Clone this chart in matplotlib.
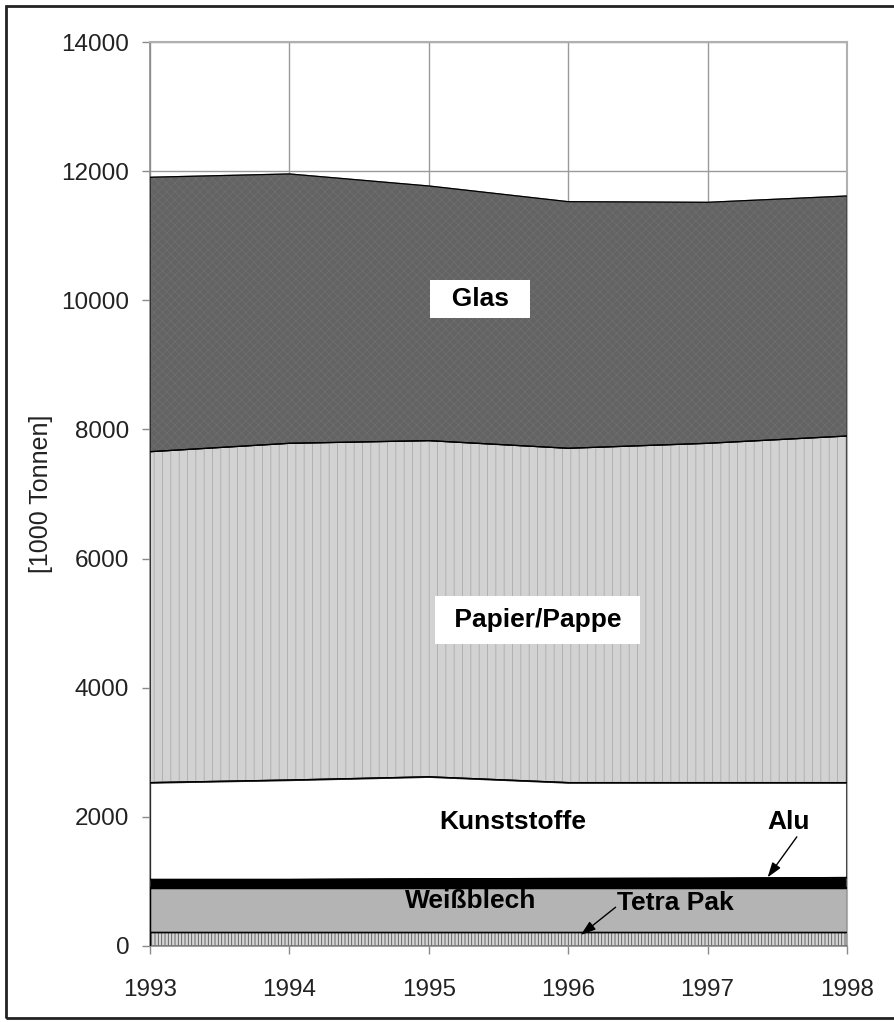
import matplotlib
matplotlib.use("Agg")
import matplotlib.pyplot as plt
from matplotlib.patches import Rectangle

plt.rcParams['font.family'] = ['Liberation Sans', 'DejaVu Sans']
plt.rcParams['hatch.linewidth'] = 0.6

years = [1993, 1994, 1995, 1996, 1997, 1998]
# values in 1000 t, bottom to top
tetra_pak = [220, 220, 220, 220, 220, 220]
weissblech = [685, 685, 685, 685, 685, 685]
alu = [125, 125, 135, 140, 145, 155]
kunststoffe = [1500, 1540, 1580, 1485, 1480, 1470]
papier = [5125, 5215, 5206, 5178, 5255, 5368]
glas = [4250, 4171, 3944, 3819, 3732, 3717]

fig = plt.figure(figsize=(8.95, 10.22), dpi=100)
ax = fig.add_axes([0.1676, 0.0744, 0.7788, 0.8845])

polys = ax.stackplot(years, tetra_pak, weissblech, alu, kunststoffe, papier, glas,
                     colors=['#d4d4d4', '#b4b4b4', '#000000', '#ffffff', '#d2d2d2', '#636363'],
                     edgecolor='black', linewidth=0.9, zorder=2)
# textures
polys[0].set_hatch('|||||')
polys[0].set_edgecolor('#555555')
polys[4].set_hatch('||')
polys[4].set_edgecolor('#ababab')
polys[5].set_hatch('xxxx')
polys[5].set_edgecolor('#6e6e6e')
# redraw outlines in black on top of the hatched layers
ax.stackplot(years, tetra_pak, weissblech, alu, kunststoffe, papier, glas,
             colors=['none'] * 6, edgecolor='black', linewidth=0.9, zorder=3)

ax.set_xlim(1993, 1998)
ax.set_ylim(0, 14000)
ax.set_xticks(years)
ax.set_yticks(range(0, 14001, 2000))
ax.grid(True, color='#9a9a9a', linewidth=1.0, zorder=0)
ax.set_axisbelow(True)
for s in ['left', 'bottom']:
    ax.spines[s].set_color('#8a8a8a')
    ax.spines[s].set_linewidth(1.2)
for s in ['top', 'right']:
    ax.spines[s].set_color('#b0b0b0')
    ax.spines[s].set_linewidth(1.5)
ax.tick_params(axis='both', direction='out', length=6, width=1.0, color='#8a8a8a',
               labelsize=17.5, labelcolor='#222222')
ax.tick_params(axis='y', pad=9)
ax.tick_params(axis='x', pad=18)
ax.set_ylabel('[1000 Tonnen]', fontsize=18, color='#222222', labelpad=6)

bold = dict(fontsize=19, fontweight='bold', ha='center', va='center', zorder=5)
ax.text(1995.37, 10020, '  Glas  ', bbox=dict(boxstyle='square,pad=0.25', fc='white', ec='none'), **bold)
ax.text(1995.78, 5050, ' Papier/Pappe ', bbox=dict(boxstyle='square,pad=0.45', fc='white', ec='none'), **bold)
ax.text(1995.60, 1920, 'Kunststoffe', **bold)
ax.text(1995.30, 700, 'Weißblech', **bold)
ax.text(1997.58, 1920, 'Alu', **bold)
ax.text(1996.77, 670, 'Tetra Pak', **bold)

arrow = dict(arrowstyle='-|>,head_length=0.9,head_width=0.3', color='black', lw=1.0,
             shrinkA=0, shrinkB=0)
ax.annotate('', xy=(1997.43, 1062), xytext=(1997.64, 1690), arrowprops=arrow, zorder=5)
ax.annotate('', xy=(1996.09, 170), xytext=(1996.34, 600), arrowprops=arrow, zorder=5)

# outer frame of the figure
fig.patches.append(Rectangle((0.0067, 0.004), 1.2, 0.99, transform=fig.transFigure,
                             fill=False, ec='#222222', lw=2.0))

fig.savefig('out.png', dpi=100)
